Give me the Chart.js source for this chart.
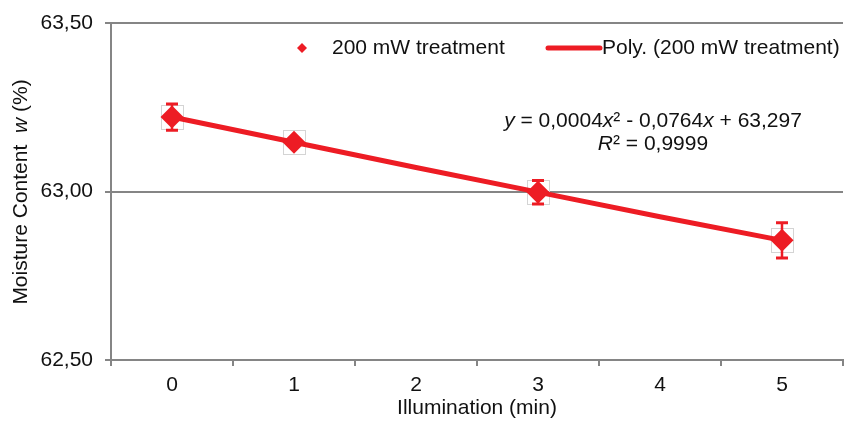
<!DOCTYPE html>
<html>
<head>
<meta charset="utf-8">
<script src="https://cdn.jsdelivr.net/npm/chart.js@4.4.1/dist/chart.umd.min.js"></script>
<style>
html,body{margin:0;padding:0;background:#fff;}
#wrap{width:844px;height:421px;position:relative;}
</style>
</head>
<body>
<div id="wrap"><canvas id="c" width="844" height="421"></canvas></div>
<script>
// Data
const categories = ['0', '1', '2', '3', '4', '5'];
const measured = [63.221, 63.146, null, 62.998, null, 62.855];
const errors = [0.039, 0.01, null, 0.035, null, 0.052];
const polyTrend = [63.221, 63.146, 63.071, 62.998, 62.925, 62.855];
const yTicks = [62.5, 63.0, 63.5];
const seriesName = '200 mW treatment';
const trendName = 'Poly. (200 mW treatment)';

const RED = '#ED1C24';
const GRID = '#858585';
const FONT = '"Liberation Sans", Arial, sans-serif';
const FS = 21;

const decorPlugin = {
  id: 'decor',
  beforeDatasetsDraw(chart) {
    const ctx = chart.ctx, x = chart.scales.x, y = chart.scales.y;
    ctx.save();
    ctx.strokeStyle = '#d4d4d4';
    ctx.lineWidth = 1;
    measured.forEach((v, i) => {
      if (v === null) return;
      const px = x.getPixelForValue(i), py = y.getPixelForValue(v);
      ctx.strokeRect(Math.round(px - 11) + 0.5, Math.round(py - 12) + 0.5, 22, 24);
    });
    ctx.restore();
  },
  afterDatasetsDraw(chart) {
    const ctx = chart.ctx, x = chart.scales.x, y = chart.scales.y;
    ctx.save();
    ctx.strokeStyle = RED;
    measured.forEach((v, i) => {
      if (v === null || errors[i] === null) return;
      const px = x.getPixelForValue(i);
      const top = y.getPixelForValue(v + errors[i]);
      const bot = y.getPixelForValue(v - errors[i]);
      ctx.lineWidth = 2.5;
      ctx.beginPath();
      ctx.moveTo(px, top); ctx.lineTo(px, bot);
      ctx.stroke();
      ctx.lineWidth = 3;
      ctx.beginPath();
      ctx.moveTo(px - 6, top); ctx.lineTo(px + 6, top);
      ctx.moveTo(px - 6, bot); ctx.lineTo(px + 6, bot);
      ctx.stroke();
    });
    ctx.restore();
  },
  afterDraw(chart) {
    const ctx = chart.ctx;
    ctx.save();
    ctx.textBaseline = 'middle';
    // Legend
    ctx.fillStyle = RED;
    ctx.beginPath();
    ctx.moveTo(302, 43); ctx.lineTo(307, 48); ctx.lineTo(302, 53); ctx.lineTo(297, 48);
    ctx.closePath(); ctx.fill();
    ctx.strokeStyle = RED; ctx.lineWidth = 5; ctx.lineCap = 'round';
    ctx.beginPath(); ctx.moveTo(548, 48); ctx.lineTo(600, 48); ctx.stroke();
    ctx.fillStyle = '#111';
    ctx.font = FS + 'px ' + FONT;
    ctx.textAlign = 'left';
    ctx.fillText(seriesName, 332, 48);
    ctx.fillText(trendName, 602, 48);

    // Equation (mixed italic)
    const drawRuns = (runs, cx, cy) => {
      let total = 0;
      runs.forEach(r => { ctx.font = r[1] + ' ' + FS + 'px ' + FONT; total += ctx.measureText(r[0]).width; });
      let xx = cx - total / 2;
      runs.forEach(r => {
        ctx.font = r[1] + ' ' + FS + 'px ' + FONT;
        ctx.fillText(r[0], xx, cy);
        xx += ctx.measureText(r[0]).width;
      });
    };
    drawRuns([['y', 'italic'], [' = 0,0004', 'normal'], ['x', 'italic'], ['² - 0,0764', 'normal'], ['x', 'italic'], [' + 63,297', 'normal']], 653, 121);
    drawRuns([['R', 'italic'], ['² = 0,9999', 'normal']], 653, 144);

    // Y axis title (rotated, with italic w)
    ctx.translate(21, 192);
    ctx.rotate(-Math.PI / 2);
    drawRuns([['Moisture Content  ', 'normal'], ['w', 'italic'], [' (%)', 'normal']], 0, 0);
    ctx.restore();
  }
};

new Chart(document.getElementById('c'), {
  type: 'line',
  data: {
    labels: categories,
    datasets: [
      {
        label: seriesName,
        data: measured,
        showLine: false,
        pointStyle: 'rectRot',
        pointRadius: 11.5,
        pointHoverRadius: 11.5,
        pointBackgroundColor: RED,
        pointBorderColor: RED,
        pointBorderWidth: 0,
        order: 0
      },
      {
        label: trendName,
        data: polyTrend,
        borderColor: RED,
        borderWidth: 5,
        pointRadius: 0,
        tension: 0,
        fill: false,
        order: 1
      }
    ]
  },
  plugins: [decorPlugin],
  options: {
    responsive: false,
    animation: false,
    devicePixelRatio: 1,
    layout: { autoPadding: false, padding: { top: 23, right: 1, left: 0, bottom: 0 } },
    plugins: { legend: { display: false }, tooltip: { enabled: false } },
    scales: {
      x: {
        type: 'category',
        offset: true,
        grid: { offset: true, drawOnChartArea: false, drawTicks: true, tickLength: 6, color: GRID, lineWidth: 2 },
        border: { color: GRID, width: 2 },
        ticks: { color: '#111', font: { family: FONT, size: FS }, padding: 7, maxRotation: 0 },
        title: { display: true, text: 'Illumination (min)', color: '#111', font: { family: FONT, size: FS }, padding: { top: 1, bottom: 0 } },
        afterFit(s) { s.height = 61; s.paddingLeft = 0; s.paddingRight = 0; }
      },
      y: {
        min: 62.5,
        max: 63.5,
        afterBuildTicks(s) { s.ticks = yTicks.map(v => ({ value: v })); },
        grid: { color: GRID, lineWidth: 2, tickLength: 6 },
        border: { color: GRID, width: 2 },
        ticks: {
          color: '#111',
          font: { family: FONT, size: FS },
          padding: 12,
          callback: v => Number(v).toFixed(2).replace('.', ',')
        },
        afterFit(s) { s.width = 111; s.paddingTop = 0; s.paddingBottom = 0; }
      }
    }
  }
});
</script>
</body>
</html>
